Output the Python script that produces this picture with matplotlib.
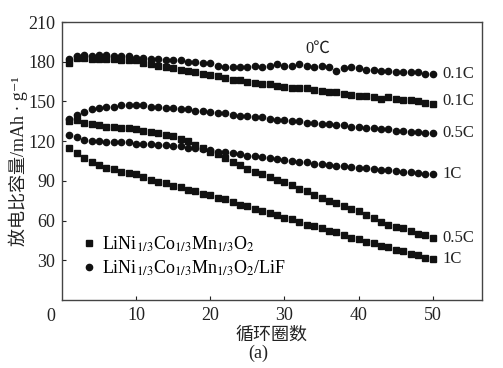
import matplotlib
matplotlib.use('Agg')
import matplotlib.pyplot as plt
import numpy as np

# cycle numbers
cycles = np.arange(1, 51)

# LiNi1/3Co1/3Mn1/3O2 (squares)
sq_01C = [179, 183, 183, 182, 182, 182, 182, 181, 181, 181,
          179, 178, 177, 176, 175, 174, 173, 172, 171, 170,
          169, 168, 166, 166, 165, 164, 163, 163, 162, 161,
          160, 160, 160, 159, 158, 157, 157, 156, 155, 154,
          154, 153, 152, 153, 152, 151, 151, 150, 149, 148]
sq_05C = [135, 136, 134, 133, 132, 131, 131, 130, 130, 129,
          128, 127, 126, 125, 124, 122, 120, 117, 115, 112,
          110, 107, 104, 102, 99, 97, 95, 93, 91, 89,
          87, 84, 82, 79, 77, 75, 73, 71, 69, 67,
          64, 62, 59, 57, 55, 54, 52, 50, 49, 47]
sq_1C = [115, 111, 107, 104, 102, 100, 99, 97, 96, 95,
         93, 91, 89, 88, 86, 85, 83, 82, 80, 79,
         77, 76, 74, 72, 71, 69, 67, 66, 64, 62,
         61, 59, 57, 56, 54, 52, 51, 49, 47, 46,
         44, 43, 41, 40, 38, 37, 35, 34, 32, 31]

# LiNi1/3Co1/3Mn1/3O2/LiF (circles)
ci_01C = [182, 184, 185, 184, 185, 185, 184, 184, 184, 183,
          183, 182, 182, 181, 181, 181, 180, 180, 179, 179,
          177, 176, 176, 176, 176, 177, 176, 177, 178, 177,
          177, 178, 177, 176, 177, 176, 173, 175, 176, 175,
          174, 174, 173, 173, 172, 172, 172, 172, 171, 171]
ci_05C = [137, 140, 142, 144, 145, 146, 146, 147, 147, 147,
          147, 146, 146, 145, 145, 144, 144, 143, 143, 142,
          141, 141, 140, 139, 139, 138, 138, 137, 136, 136,
          135, 135, 134, 134, 133, 133, 132, 132, 131, 131,
          130, 130, 129, 129, 128, 128, 127, 127, 126, 126]
ci_1C = [125, 123, 121, 120, 120, 119, 119, 119, 119, 118,
         118, 118, 117, 117, 116, 116, 115, 114.5, 114, 113,
         112, 111.5, 111, 110, 109, 108.5, 108, 107, 106.5, 106,
         105, 104.5, 104, 103, 102.5, 102, 101.5, 101, 100.5, 100,
         99.5, 99, 98.5, 98, 97.5, 97, 96.5, 96, 95.5, 95]

rate_labels = ['0.1C', '0.1C', '0.5C', '1C', '0.5C', '1C']
label_order = [ci_01C, sq_01C, ci_05C, ci_1C, sq_05C, sq_1C]
label_offsets = [0, 2, 0, 0, 0, 0]

plt.rcParams['font.family'] = ['Liberation Serif', 'Noto Sans CJK SC', 'DejaVu Serif']
plt.rcParams['mathtext.fontset'] = 'stix'

fig = plt.figure(figsize=(5.03, 3.68), dpi=100)
ax = fig.add_axes([0.123, 0.185, 0.835, 0.755])

c = '#111111'
for i, ys in enumerate([sq_01C, sq_05C, sq_1C]):
    ax.plot(cycles, ys, ls='none', marker='s', ms=4.3, color=c,
            label=r'LiNi$_{1/3}$Co$_{1/3}$Mn$_{1/3}$O$_2$' if i == 0 else None)
for i, ys in enumerate([ci_01C, ci_05C, ci_1C]):
    ax.plot(cycles, ys, ls='none', marker='o', ms=4.5, color=c,
            label=r'LiNi$_{1/3}$Co$_{1/3}$Mn$_{1/3}$O$_2$/LiF' if i == 0 else None)

# rate labels at the right end of each series
for lab, ys, off in zip(rate_labels, label_order, label_offsets):
    ax.text(51.3, ys[-1] + off, lab, fontsize=12, va='center', ha='left', color='#222222')

ax.text(34.5, 190, '0℃', fontsize=12, ha='center', va='center', color='#222222')

ax.set_xlim(0, 56.6)
ax.set_ylim(0, 210)
ax.set_xticks([10, 20, 30, 40, 50])
ax.set_yticks([30, 60, 90, 120, 150, 180, 210])
ax.tick_params(direction='in', length=3, labelsize=13, colors='#222222', pad=5)
ax.text(-0.015, -0.03, '0', transform=ax.transAxes, fontsize=13,
        ha='right', va='top', color='#222222')
for sp in ax.spines.values():
    sp.set_color('#444444')
    sp.set_linewidth(1.0)

ax.set_ylabel('放电比容量/mAh · g⁻¹', fontsize=13, color='#222222', labelpad=0)
ax.set_xlabel('循环圈数', fontsize=13, color='#222222', labelpad=2)
fig.text(0.513, 0.04, '(a)', fontsize=13, ha='center', va='center', color='#222222')

ax.legend(loc='lower left', bbox_to_anchor=(0.0, 0.02), frameon=False,
          fontsize=13, handletextpad=0.1, handlelength=1.2, labelspacing=0.25,
          markerscale=1.0)

fig.savefig('out.png', dpi=100)
